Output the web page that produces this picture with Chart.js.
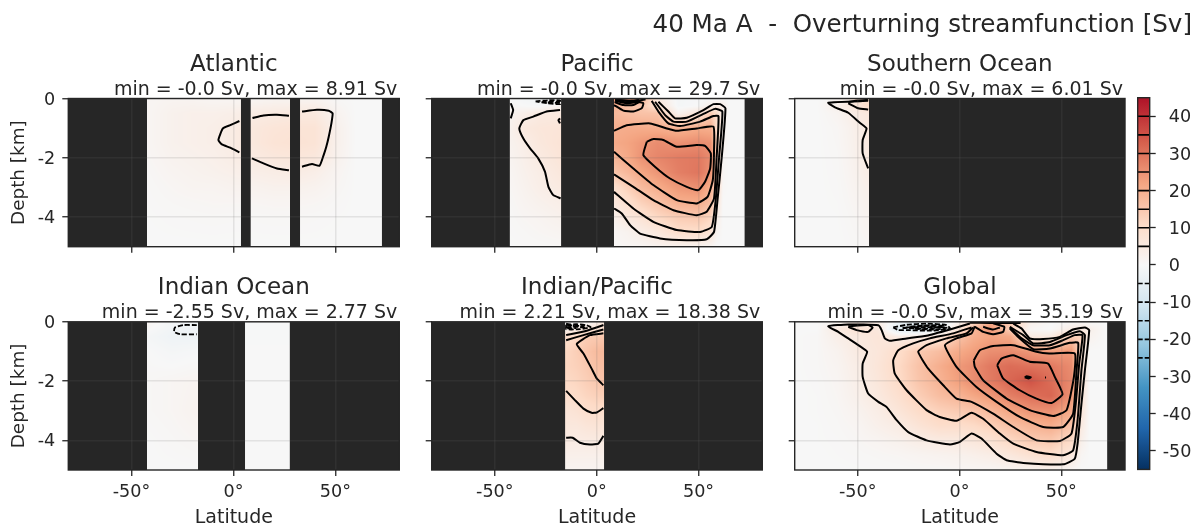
<!DOCTYPE html>
<html><head><meta charset="utf-8">
<style>
html,body{margin:0;padding:0;background:#fff;width:1203px;height:529px;overflow:hidden}
canvas{position:absolute;display:block;filter:blur(.35px)}
#sup{position:absolute;right:11px;top:8px;font:24.6px/32px "DejaVu Sans";color:#262626;white-space:pre;filter:blur(.35px)}
</style>
<script src="https://cdn.jsdelivr.net/npm/chart.js@4/dist/chart.umd.js"></script>
</head><body>
<div id="sup">40 Ma A  -  Overturning streamfunction [Sv]</div>
<script>
// ---------- axis values ----------
const latTicks=[-50,0,50];
const depthTicks=[0,-2,-4];
const cbarTicksPos=[40,30,20,10,0];
const cbarTicksNeg=[-10,-20,-30,-40,-50];
const cbarLevelsPos=[40,35,30,25,20,15,10,5];
const cbarLevelsNeg=[-5,-10,-15,-20,-25];
const rdbuStops=['#053061','#2166ac','#4393c3','#92c5de','#d1e5f0','#f7f7f7','#fddbc7','#f4a582','#d6604d','#b2182b','#67001f'];

// ---------- titles ----------
const panelTitles=['Atlantic','Pacific','Southern Ocean','Indian Ocean','Indian/Pacific','Global'];
const panelStats=['min = -0.0 Sv, max = 8.91 Sv','min = -0.0 Sv, max = 29.7 Sv','min = -0.0 Sv, max = 6.01 Sv','min = -2.55 Sv, max = 2.77 Sv','min = 2.21 Sv, max = 18.38 Sv','min = -0.0 Sv, max = 35.19 Sv'];

// ---------- land (latitude spans) ----------
const atlLand=[[-81,-42.4],[3.6,8.5],[27.7,32.7],[72.7,81.3]];
const pacLand=[[-81,-42.6],[-17.5,8.5],[72.5,81.3]];
const souLand=[[-44.5,81.3]];
const indLand=[[-81,-42.4],[-17.4,5.7],[27.5,81.3]];
const ipaLand=[[-81,-15.4],[3.6,81.3]];
const gloLand=[[72.5,81.3]];

// ---------- streamfunction grids [Sv] ----------
const atlLat=[-42,-30,-20,-10,0,10,20,30,40,50,60,72];
const atlDepth=[0,-.5,-1,-1.5,-2,-2.5,-3,-3.5,-4,-5];
const atlPsi=[
[1,1.5,1.5,1,1,1,1.5,1.5,1.5,.5,0,0],
[1,2.5,3,3,3.5,4.5,5,5.5,5.5,2,0,0],
[1,2.5,3,3.5,4.5,6,7,7.5,7.5,3,0,0],
[1,2.5,3,3.5,4.5,6,7.5,8,7.5,3,0,0],
[.8,2,2.5,3,4,5,6,6.5,6,2.5,0,0],
[.5,1.5,2,2.5,3,3.5,4,4.5,3.5,1.5,0,0],
[.3,1,1.5,1.5,2,2,2.5,2.5,2,1,0,0],
[.2,.6,.8,1,1,1,1.2,1.2,1,.5,0,0],
[.1,.3,.4,.5,.4,.4,.5,.5,.4,.2,0,0],
[0,0,0,0,0,0,0,0,0,0,0,0]];

const pacLat=[-43,-36,-28,-18,8.5,15,22,30,40,50,56,59,62,65,72];
const pacDepth=[0,-.25,-.5,-1,-1.5,-2,-2.5,-3,-3.5,-4,-4.5,-5];
const pacPsi=[
[0,-1,-2,-1,25,25,20,5,-1,-.5,0,0,0,0,0],
[1,0,-.5,2,20,16,15,8,-1,0,3,5,4,0,0],
[2,3,5,5.5,18,17,16,16,2,7,14,10,3,0,0],
[2,5.5,6.5,7,20,20.5,20.5,20,19,20.5,20,10,2,0,0],
[2,3.5,6,7.5,21,22,24,26,25,26,25,13,2,0,0],
[1.5,3,5,7,18.5,21,25,27,28.5,29,26,14,1,0,0],
[1,2.5,4,6,15.4,18,21.5,24.5,28,29.5,25,13,1,0,0],
[.8,2,3.5,5,9,13,17.5,20.5,24,25.5,20,11,.5,0,0],
[.5,1.5,2.5,3.5,6,9,13,16,20,20.5,17,8,0,0,0],
[.3,1,1.5,2.5,3,6,8,11.5,14,15,12,4,0,0,0],
[.2,.5,1,1.5,1,2,4,6,10,10,8,2,0,0,0],
[0,.2,.3,.5,.5,1,1,2,2,2,1,0,0,0,0]];

const souLat=[-81,-70,-60,-55,-50,-45];
const souDepth=[0,-.25,-.5,-1,-2,-3,-4,-5];
const souPsi=[
[0,0,1,3,8,10],
[0,0,3,5,7,10],
[0,0,1.5,3,5,6],
[0,0,.8,2,3.5,5.5],
[0,0,.5,1.5,3,5],
[0,0,.3,1,2,3],
[0,0,.1,.5,1,2],
[0,0,0,.2,.4,.8]];

const indLat=[-42,-30,-18,5.7,27.5];
const indDepth=[0,-.5,-1,-2,-3,-4,-5];
const indPsi=[
[1.5,-1.5,-2,-.2,-.2],
[-1,-2.5,-2.5,-.2,-.2],
[0,-1,-.5,-.1,-.1],
[.5,1,1.5,0,0],
[.5,1,2,0,0],
[0,.5,1,0,0],
[0,0,0,0,0]];

const ipaLat=[-15.4,-10,-5,0,3.6];
const ipaDepth=[0,-.25,-.5,-1,-1.5,-2,-2.5,-3,-3.5,-4,-4.5,-5];
const ipaPsi=[
[0,-1,0,3,6],
[2,4,6,8,10],
[9.5,11,14,14.5,15],
[11.5,13.5,15.5,17.5,18],
[12,13,14.5,16.5,17],
[11,12,13.5,15,16],
[9.5,10.5,12,13,13.5],
[7,8,9.5,10.2,9.5],
[6,6,7,7.5,7],
[5,4.5,4.8,5,5],
[3,3,3,3,3],
[1.5,1.5,1.5,1.5,1.5]];

const gloLat=[-81,-70,-60,-50,-40,-30,-20,-10,0,7,15,25,35,45,55,60,64,72];
const gloDepth=[0,-.25,-.5,-1,-1.5,-2,-2.5,-3,-3.5,-4,-4.5,-5];
const gloPsi=[
[0,0,1,5,4,-3,-5,-4,2,10,20,16,3,0,0,0,0,0],
[0,0,5,8,6,-7,-8,-6,8,18,25,13,1,0,4,5,3,0],
[0,.5,3.5,5.5,7,4,4,7,16,20,22,21,5,5,14,13,2,0],
[0,.5,2,5,6.5,10,14.5,17,21,23,25.5,26,24,23,24,8,0,0],
[0,.5,1.5,4,7,11,16,20,24,26,29,31,30,29,26,9,0,0],
[0,.3,1.2,3.5,6.5,10.5,15.5,19,23,26,28.5,32,35,31,26.5,9,0,0],
[0,.2,1,3,5.5,9,13.5,17,19,21.5,24,28,30.5,32,25,8,0,0],
[0,.2,.7,2,4,7,10.5,13,14.5,15.5,18,22,25,25.5,21,7,0,0],
[0,.1,.5,1.2,3,4.5,7.5,10,10,11,13,16.5,19,20.5,16,5,0,0],
[0,.1,.3,.8,1.5,2.5,4,5,5.5,6.5,8,11.5,14.5,15,11,3,0,0],
[0,0,.2,.4,.7,1,1.5,2,2.5,3,4,6,8.5,10,6,1,0,0],
[0,0,0,.1,.2,.3,.5,.5,.8,1,1,1.5,2,2.5,1,0,0,0]];

// ---------- contours [latitude, depth] ----------
const atlLines=[
[[2.9,-.76],[-1.6,-.9],[-5.2,-1.01],[-7.4,-1.4],[-5.7,-1.55],[-1.6,-1.66],[2.9,-1.82]],
[[9.3,-.66],[14.7,-.57],[21.3,-.55],[27.2,-.58]],
[[9,-2.02],[14.7,-2.19],[21.3,-2.36],[27.2,-2.42]],
[[33.6,-.44],[40.9,-.38],[46.7,-.41],[48.6,-.5],[48,-.84],[46.7,-1.29],[45.5,-1.63],[44.2,-1.91],[42.2,-2.27],[38.5,-2.21],[33.6,-2.3]]];
const atlDashed=[];

const pacLines=[
[[24.6,-1.46],[27.8,-1.37],[32.7,-1.4],[39.3,-1.63],[49.1,-1.57],[53.2,-1.6],[56,-1.85],[55.7,-2.36],[53.2,-2.81],[49.9,-3.09],[44.2,-2.98],[36,-2.7],[28.6,-2.3],[22.9,-1.91],[24.6,-1.46]],
[[8.5,-1.09],[14.7,-.9],[26.2,-.84],[34.4,-1.01],[39.3,-1.09],[49.1,-1.01],[57.3,-.95],[57.6,-1.74],[57,-2.75],[54.4,-3.32],[49.1,-3.54],[39.3,-3.43],[27.8,-2.92],[18,-2.36],[8.5,-1.8]],
[[8.5,-2.56],[18,-2.98],[27.8,-3.43],[37.7,-3.77],[49.1,-3.94],[54,-3.82],[57.6,-3.37],[58.9,-1.97],[59.8,-.59],[57.3,-.59],[50.8,-.78],[40.9,-.93],[35.2,-.84],[30.3,-.44],[27,-.08]],
[[8.5,-3.15],[18,-3.71],[27.8,-4.16],[39.3,-4.44],[50.8,-4.5],[56.5,-4.33],[58.4,-3.43],[60.1,-1.97],[61.7,-.44],[58.1,-.35],[52.4,-.52],[44.2,-.78],[37.7,-.78],[33.6,-.56],[28.7,-.11]],
[[8.5,-3.71],[12.3,-3.88],[16.4,-4.27],[21.3,-4.56],[31.1,-4.72],[44.2,-4.78],[54,-4.75],[57.6,-4.5],[59.3,-3.43],[61.4,-1.97],[63.2,-.33],[60.6,-.19],[57.3,-.19],[52.4,-.39],[44.2,-.65],[38.5,-.67],[35.2,-.44],[30.3,-.11]],
[[8.5,-.22],[13.1,-.41],[18,-.44],[22.1,-.33],[22.9,-.16],[18,-.08],[9.8,-.06]],
[[8.8,-.12],[13.1,-.22],[18,-.22],[21.3,-.11]],
[[9.8,-.05],[14,-.13],[19,-.09],[24,-.03]],
[[9,-.03],[16,-.09],[21,-.04]],
[[9,-.07],[15,-.16],[20,-.12]],
[[-18,-.39],[-24.6,-.44],[-31.1,-.61],[-36,-.73],[-38,-1.01],[-36,-1.35],[-32.7,-1.68],[-28.7,-2.02],[-25.4,-2.47],[-23.7,-2.98],[-21.3,-3.26],[-17.7,-3.37]],
[[-42.2,-.16],[-41,-.39],[-42.2,-.67]],
[[-18,-.67],[-18.8,-.73],[-18,-.84]]];
const pacDashed=[
[[-30,-.1],[-24,-.06],[-18,-.06],[-18,-.19],[-24,-.16],[-30,-.1]],
[[-27,-.12],[-18,-.1]],
[[-24,-.14],[-18,-.15]]];

const souLines=[
[[-44.9,-.08],[-64.5,-.14],[-61.2,-.3],[-54.7,-.48],[-49,-.82],[-45.7,-1.01],[-47.6,-1.4],[-47.6,-1.85],[-44.9,-2.36]],
[[-54.7,-.16],[-49.8,-.33],[-44.9,-.37]],
[[-54.7,-.12],[-50,-.07],[-44.9,-.05]]];
const souDashed=[];

const indLines=[];
const indDashed=[[[-18,-.11],[-24.6,-.11],[-28.7,-.19],[-29.1,-.34],[-26.2,-.42],[-18,-.42]]];

const ipaLines=[
[[-15,-.45],[-4.9,-.3],[3.3,-.11]],
[[-15,-.62],[-6.5,-.45],[3.3,-.26]],
[[3.3,-.39],[-3.3,-.45],[-9.8,-.75],[-6.5,-1.07],[-2.5,-1.58],[0,-1.91],[3.3,-2.14]],
[[-15,-2.33],[-10.6,-2.65],[-6.5,-2.93],[-2.5,-3.07],[0,-3.06],[3.3,-2.91]],
[[-15,-3.91],[-11.8,-3.91],[-8.2,-4.08],[-3.3,-4.14],[.8,-4.11],[3.3,-3.85]]];
const ipaDashed=[
[[-15,-.1],[-10,-.08],[-5,-.12],[-3,-.18],[-8,-.25],[-15,-.25],[-15,-.1]],
[[-15,-.18],[-9,-.17],[-5,-.2]],
[[-15,-.06],[-11,-.14]],
[[-14.5,-.12],[-10,-.13],[-6,-.15]],
[[-14.5,-.22],[-10,-.21]]];

const gloLines=[
[[5.1,-.06],[-4.7,-.26],[-16.2,-.47],[-26,-.56],[-34.2,-.64],[-36.7,-.56],[-38.3,-.28],[-39.9,-.12],[-54.7,-.09],[-64.5,-.15],[-59.6,-.34],[-54.7,-.56],[-49,-.82],[-45.4,-1.01],[-47.6,-1.41],[-47.6,-1.86],[-44.9,-2.42],[-39.9,-2.7],[-35.9,-2.87],[-30.9,-3.32],[-25.2,-3.72],[-16.2,-4],[-4.7,-4.14],[.2,-4.05],[5.9,-3.77],[10.8,-3.94],[18.2,-4.45],[23.1,-4.67],[31.3,-4.76],[50.9,-4.81],[56.6,-4.62],[58,-4.11],[59.9,-2.76],[61.6,-1.63],[63.7,-.28],[61.6,-.19],[55.8,-.26],[49.3,-.51],[41.1,-.58],[34.5,-.56],[30.5,-.23],[26.4,-.06]],
[[5.9,-.19],[-3.1,-.39],[-14.6,-.56],[-22.8,-.73],[-30.1,-.96],[-32.6,-1.3],[-31.8,-1.75],[-26,-2.31],[-16.2,-2.98],[-9.7,-3.21],[-1.5,-3.34],[5.9,-3.07],[11.6,-3.27],[19.8,-3.77],[26.4,-4.11],[37.8,-4.39],[50.9,-4.5],[55.8,-4.34],[58,-3.32],[59.9,-1.63],[61.6,-.45],[59.1,-.32],[52.6,-.45],[44.4,-.68],[36.2,-.73],[31.3,-.45],[24.7,-.17]],
[[6.7,-.19],[3.4,-.39],[-6.4,-.56],[-16.2,-.79],[-20.3,-1.01],[-15.4,-1.58],[-8,-2.14],[-1.5,-2.59],[5.9,-2.7],[16.5,-3.1],[26.4,-3.55],[37.8,-4],[49.3,-4.02],[55,-3.77],[57.1,-2.76],[58.8,-1.41],[60.4,-.45],[56.6,-.45],[50.9,-.62],[44.4,-.79],[36.2,-.79],[30.5,-.56],[24.7,-.19]],
[[7.5,-.15],[5.9,-.39],[-1.5,-.56],[-7.2,-.79],[-1.5,-1.52],[8.3,-2.2],[18.2,-2.7],[29.6,-3.21],[41.1,-3.55],[50.9,-3.55],[55.8,-3.1],[57.5,-1.63],[58.3,-.71],[54.2,-.71],[44.4,-.9],[36.2,-.92],[28.8,-.51],[24.7,-.23]],
[[7,-1.3],[10,-.96],[16.5,-.82],[26.4,-.79],[37.8,-1.01],[44,-1.07],[56.6,-1.07],[56.2,-1.86],[52.6,-2.98],[46,-3.18],[34.5,-2.98],[23.1,-2.59],[11.6,-1.97],[7.5,-1.52],[7,-1.3]],
[[18.5,-1.46],[20.6,-1.24],[26.4,-1.13],[34.5,-1.35],[43.5,-1.41],[46.8,-1.86],[50.6,-2.44],[45.2,-2.74],[37.8,-2.59],[29.6,-2.31],[21.4,-1.91],[18.5,-1.46]],
[[32,-1.87],[33,-1.84],[35,-1.87],[34,-1.91],[32,-1.87]],
[[42,-1.88],[42.5,-1.88]],
[[-54.7,-.17],[-50.6,-.28],[-44.9,-.34],[-42.7,-.19],[-44.9,-.11],[-54.7,-.15]],
[[7.5,-.17],[11.6,-.34],[16.5,-.42],[21.4,-.34],[22,-.17],[16.5,-.05]],
[[11.6,-.17],[16.5,-.26],[19.8,-.19]],
[[5,-.03],[15,-.04],[30,-.04]]];
const gloDashed=[
[[-32.6,-.19],[-26,-.1],[-16,-.06],[-6.4,-.11],[-4.7,-.23],[-14,-.3],[-26,-.28],[-30,-.28],[-32.6,-.19]],
[[-28,-.21],[-18,-.14],[-8,-.17],[-16,-.23],[-28,-.21]],
[[-24,-.16],[-14,-.11],[-7,-.14]],
[[-22,-.24],[-12,-.26],[-6,-.2]],
[[-26,-.19],[-16,-.18],[-7,-.19]]];

// ---------- helpers ----------
const INK='#262626', LAND='#262626', FONT='"DejaVu Sans"', GRID='rgba(110,110,110,.15)';
Chart.defaults.font.family=FONT;
Chart.defaults.color=INK;
Chart.defaults.animation=false;

function hex(h){return [1,3,5].map(i=>parseInt(h.substr(i,2),16));}
const rgbStops=rdbuStops.map(hex);
function cmap(v){
  let t=Math.max(0,Math.min(1,(v+55)/110))*(rgbStops.length-1);
  const i=Math.min(rgbStops.length-2,Math.floor(t)),f=t-i;
  return rgbStops[i].map((c,k)=>c+(rgbStops[i+1][k]-c)*f);
}
function locate(arr,x,desc){
  const n=arr.length;
  if(desc){ if(x>=arr[0])return[0,0]; if(x<=arr[n-1])return[n-2,1];
    for(let i=0;i<n-1;i++) if(x<=arr[i]&&x>=arr[i+1]) return[i,(arr[i]-x)/(arr[i]-arr[i+1])]; }
  else{ if(x<=arr[0])return[0,0]; if(x>=arr[n-1])return[n-2,1];
    for(let i=0;i<n-1;i++) if(x>=arr[i]&&x<=arr[i+1]) return[i,(x-arr[i])/(arr[i+1]-arr[i])]; }
  return[0,0];
}
const heatPlugin={id:'heat',beforeDatasetsDraw(chart,args,opts){
  if(!opts.psi)return;
  const a=chart.chartArea,sx=chart.scales.x,sy=chart.scales.y;
  const x0=Math.floor(a.left),y0=Math.floor(a.top),w=Math.ceil(a.right)-x0,h=Math.ceil(a.bottom)-y0;
  const off=document.createElement('canvas');off.width=w;off.height=h;
  const oc=off.getContext('2d'),img=oc.createImageData(w,h);
  for(let j=0;j<h;j++){
    const [r,fr]=locate(opts.depth,sy.getValueForPixel(y0+j+.5),true);
    for(let i=0;i<w;i++){
      const [c,fc]=locate(opts.lat,sx.getValueForPixel(x0+i+.5),false);
      const p=opts.psi;
      const v=(p[r][c]*(1-fc)+p[r][c+1]*fc)*(1-fr)+(p[r+1][c]*(1-fc)+p[r+1][c+1]*fc)*fr;
      const col=cmap(v),o=(j*w+i)*4;
      img.data[o]=col[0];img.data[o+1]=col[1];img.data[o+2]=col[2];img.data[o+3]=255;
    }
  }
  oc.putImageData(img,0,0);
  const ctx=chart.ctx;ctx.save();ctx.beginPath();ctx.rect(a.left,a.top,a.right-a.left,a.bottom-a.top);ctx.clip();
  ctx.drawImage(off,x0,y0);ctx.restore();
}};
const framePlugin={id:'frame',
  afterLayout(chart){
    chart.boxes.forEach(b=>{if(!b.axis&&b.options&&b.options.align==='end')b.right-=2;});
    // the colour bar's negative labels hang into the neighbouring axis box
    if(chart.scales.yp)chart.scales.y.right=chart.scales.y.left+53;
  },
  afterDraw(chart){
    const a=chart.chartArea,c=chart.ctx;c.save();c.strokeStyle=INK;c.lineWidth=1.4;
    c.strokeRect(a.left,a.top,a.right-a.left,a.bottom-a.top);c.restore();
  }};
Chart.register(heatPlugin,framePlugin);

const toXY=p=>p.map(([x,y])=>({x,y}));
function lineDs(p,dashed){return{type:'scatter',showLine:true,data:toXY(p),borderColor:'#000',borderWidth:dashed?1.8:2,
  borderDash:dashed?[5,2]:[],pointRadius:0,tension:.15,borderJoinStyle:'round',fill:false,order:1};}
function landDs(s){return{type:'scatter',showLine:true,data:[{x:s[0],y:-5},{x:s[1],y:-5}],borderWidth:0,borderColor:LAND,
  backgroundColor:LAND,pointRadius:0,fill:{value:0},order:5};}

const fields=[
 {lat:atlLat,depth:atlDepth,psi:atlPsi,land:atlLand,lines:atlLines,dashed:atlDashed},
 {lat:pacLat,depth:pacDepth,psi:pacPsi,land:pacLand,lines:pacLines,dashed:pacDashed},
 {lat:souLat,depth:souDepth,psi:souPsi,land:souLand,lines:souLines,dashed:souDashed},
 {lat:indLat,depth:indDepth,psi:indPsi,land:indLand,lines:indLines,dashed:indDashed},
 {lat:ipaLat,depth:ipaDepth,psi:ipaPsi,land:ipaLand,lines:ipaLines,dashed:ipaDashed},
 {lat:gloLat,depth:gloDepth,psi:gloPsi,land:gloLand,lines:gloLines,dashed:gloDashed}];

const TITLE_BLOCK=27.6+22.8;
const cols=[{canvas:0,plotL:68.3,plotR:399.3},{canvas:363,plotL:431.7,plotR:762.3},{canvas:726,plotL:794.7,plotR:1125}];
const rows=[{canvas:40,h:260,top:98.5,bottom:246.7},{canvas:263,h:266,top:321.8,bottom:470}];

function panel(i){
  const col=cols[i%3],row=rows[Math.floor(i/3)],f=fields[i];
  const cv=document.createElement('canvas');cv.width=400;cv.height=row.h;
  cv.style.left=col.canvas+'px';cv.style.top=row.canvas+'px';cv.style.width='400px';cv.style.height=row.h+'px';
  document.body.appendChild(cv);
  const firstCol=i%3===0,lastRow=i>=3;
  const yW=col.plotL-col.canvas,xH=row.canvas+row.h-row.bottom;
  new Chart(cv,{type:'scatter',
    data:{datasets:[...f.land.map(landDs),...f.lines.map(l=>lineDs(l,false)),...f.dashed.map(l=>lineDs(l,true))]},
    options:{responsive:false,animation:false,
      layout:{padding:{top:row.top-row.canvas-TITLE_BLOCK,right:col.canvas+400-col.plotR,left:0,bottom:0}},
      plugins:{legend:{display:false},tooltip:{enabled:false},
        title:{display:true,text:panelTitles[i],fullSize:false,align:'center',color:INK,font:{size:23,weight:'normal'},padding:{top:3,bottom:-3}},
        subtitle:{display:true,text:panelStats[i],fullSize:false,align:'end',color:INK,font:{size:19,weight:'normal'},padding:{top:2.5,bottom:-2.5}},
        heat:{lat:f.lat,depth:f.depth,psi:f.psi}},
      scales:{
        x:{type:'linear',min:-81,max:81.3,
          afterBuildTicks:s=>{s.ticks=latTicks.map(value=>({value}));},
          afterFit:s=>{s.height=xH;},
          grid:{color:GRID,lineWidth:1.5,z:1,tickColor:INK,tickWidth:1.3,tickLength:6},
          border:{display:false},
          ticks:{autoSkip:false,maxRotation:0,padding:6,color:INK,font:{size:17.6},callback:v=>lastRow?v+'°':''},
          title:{display:lastRow,text:'Latitude',color:INK,font:{size:19},padding:{top:0,bottom:0}}},
        y:{type:'linear',min:-5,max:0,
          afterBuildTicks:s=>{s.ticks=depthTicks.map(value=>({value}));},
          afterFit:s=>{s.width=yW;},
          grid:{color:GRID,lineWidth:1.5,z:1,tickColor:INK,tickWidth:1.3,tickLength:6},
          border:{display:false},
          ticks:{autoSkip:false,padding:7,labelOffset:1.5,color:INK,font:{size:17.6},callback:v=>firstCol?String(v):''},
          title:{display:firstCol,text:'Depth [km]',color:INK,font:{size:18.4},padding:{top:8,bottom:0}}}
      }}});
}
for(let i=0;i<6;i++)panel(i);

// ---------- colour bar ----------
(function(){
  const cv=document.createElement('canvas');cv.width=103;cv.height=433;
  cv.style.left='1100px';cv.style.top='60px';cv.style.width='103px';cv.style.height='433px';
  document.body.appendChild(cv);
  const CB_MIN=-55,CB_MAX=45;
  const grad=c=>{
    const ch=c.chart,a=ch.chartArea;if(!a)return '#f7f7f7';
    const sy=ch.scales.y,g=ch.ctx.createLinearGradient(0,sy.getPixelForValue(CB_MIN),0,sy.getPixelForValue(CB_MAX));
    const span=CB_MAX-CB_MIN;
    for(let k=0;k<=100;k++){const v=CB_MIN+span*k/100,col=cmap(v);g.addColorStop(k/100,`rgb(${col.map(Math.round).join(',')})`);}
    return g;};
  const lvl=(y,d)=>({type:'scatter',showLine:true,data:[{x:0,y},{x:1,y}],borderColor:'#000',borderWidth:1.6,borderDash:d?[5,2]:[],pointRadius:0,fill:false,order:1});
  const tickAxis=(list,pad,w,weight)=>({type:'linear',position:'right',min:CB_MIN,max:CB_MAX,weight,
    afterBuildTicks:s=>{s.ticks=list.map(value=>({value}));},
    afterFit:s=>{s.width=w;},
    grid:{drawOnChartArea:false,tickColor:INK,tickWidth:1.3,tickLength:6},border:{display:false},
    ticks:{autoSkip:false,padding:pad,labelOffset:1.5,color:INK,font:{size:17.6},callback:v=>String(v)}});
  new Chart(cv,{type:'scatter',
    data:{datasets:[
      {type:'scatter',showLine:true,data:[{x:0,y:CB_MIN},{x:1,y:CB_MIN}],borderWidth:0,pointRadius:0,backgroundColor:grad,fill:{value:CB_MAX},order:5},
      ...cbarLevelsPos.map(l=>lvl(l,false)),...cbarLevelsNeg.map(l=>lvl(l,true))]},
    options:{responsive:false,animation:false,
      layout:{padding:{top:37.7,bottom:17,left:37.7,right:0}},
      plugins:{legend:{display:false},tooltip:{enabled:false}},
      scales:{
        x:{type:'linear',min:0,max:1,display:false},
        y:tickAxis(cbarTicksNeg,7,0,0),
        yp:tickAxis(cbarTicksPos,13,53.3,1)
      }}});
})();
</script>
</body></html>
